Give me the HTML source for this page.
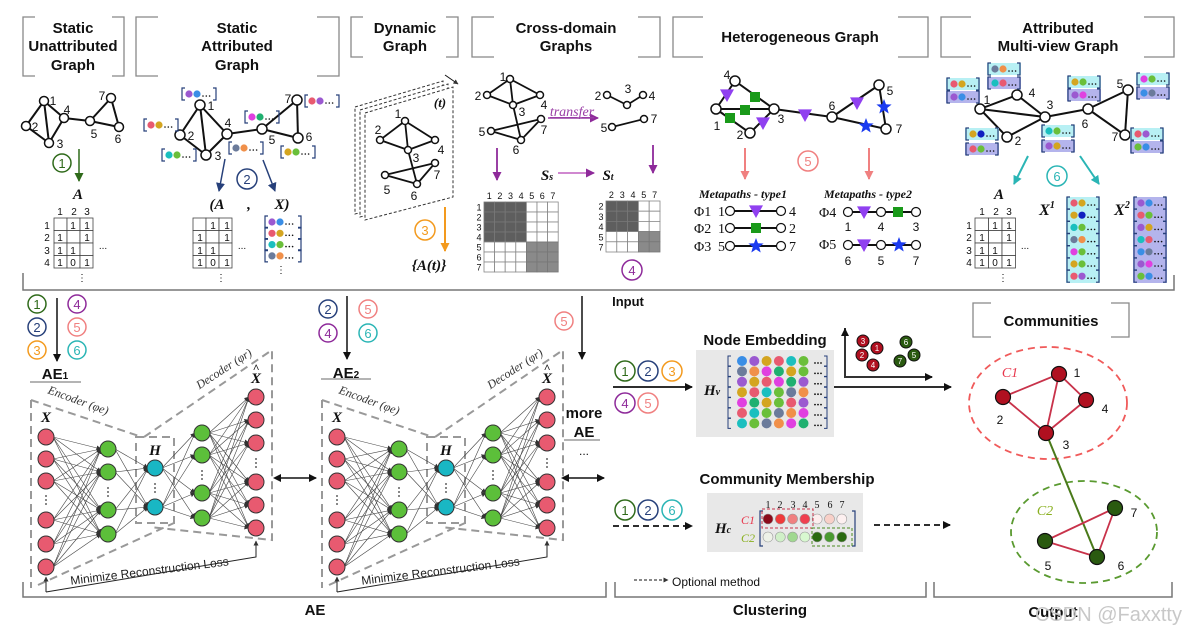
<!DOCTYPE html>
<html><head><meta charset="utf-8"><style>
html,body{margin:0;padding:0;background:#fff;}
svg{display:block;font-family:"Liberation Sans",sans-serif;}
.h{font-weight:bold;font-size:15px;text-anchor:middle;fill:#111;}
.n{font-size:12px;fill:#111;text-anchor:middle;}
.s{font-size:10px;fill:#111;text-anchor:middle;}
.it{font-family:"Liberation Serif",serif;font-style:italic;font-weight:bold;fill:#111;text-anchor:middle;}
.cn{font-size:13px;text-anchor:middle;}
</style></head><body>
<svg id="s" width="1185" height="636" viewBox="0 0 1185 636" xmlns="http://www.w3.org/2000/svg">
<defs>
<marker id="mk" markerWidth="8" markerHeight="8" refX="7" refY="4" orient="auto" markerUnits="userSpaceOnUse"><path d="M0,0 L8,4 L0,8 z" fill="#111"/></marker>
<marker id="mks" markerWidth="8" markerHeight="8" refX="1" refY="4" orient="auto-start-reverse" markerUnits="userSpaceOnUse"><path d="M0,0 L8,4 L0,8 z" fill="#111"/></marker>
<marker id="mg" markerWidth="9" markerHeight="9" refX="8" refY="4.5" orient="auto" markerUnits="userSpaceOnUse"><path d="M0,0 L9,4.5 L0,9 z" fill="#2f6a1a"/></marker>
<marker id="mb" markerWidth="9" markerHeight="9" refX="8" refY="4.5" orient="auto" markerUnits="userSpaceOnUse"><path d="M0,0 L9,4.5 L0,9 z" fill="#27407a"/></marker>
<marker id="mo" markerWidth="9" markerHeight="9" refX="8" refY="4.5" orient="auto" markerUnits="userSpaceOnUse"><path d="M0,0 L9,4.5 L0,9 z" fill="#f39a1e"/></marker>
<marker id="mp" markerWidth="9" markerHeight="9" refX="8" refY="4.5" orient="auto" markerUnits="userSpaceOnUse"><path d="M0,0 L9,4.5 L0,9 z" fill="#8e2a9a"/></marker>
<marker id="mr" markerWidth="9" markerHeight="9" refX="8" refY="4.5" orient="auto" markerUnits="userSpaceOnUse"><path d="M0,0 L9,4.5 L0,9 z" fill="#f08080"/></marker>
<marker id="mt" markerWidth="9" markerHeight="9" refX="8" refY="4.5" orient="auto" markerUnits="userSpaceOnUse"><path d="M0,0 L9,4.5 L0,9 z" fill="#2ab5b5"/></marker>
<marker id="ms" markerWidth="5" markerHeight="5" refX="4.5" refY="2.5" orient="auto" markerUnits="userSpaceOnUse"><path d="M0,0 L5,2.5 L0,5 z" fill="#333"/></marker>
</defs>
<g id="shapes"></g>

<!-- headers -->
<text class="h" x="73" y="33">Static</text><text class="h" x="73" y="51">Unattributed</text><text class="h" x="73" y="70">Graph</text>
<text class="h" x="237" y="33">Static</text><text class="h" x="237" y="51">Attributed</text><text class="h" x="237" y="70">Graph</text>
<text class="h" x="405" y="33">Dynamic</text><text class="h" x="405" y="51">Graph</text>
<text class="h" x="566" y="33">Cross-domain</text><text class="h" x="566" y="51">Graphs</text>
<text class="h" x="800" y="42">Heterogeneous Graph</text>
<text class="h" x="1058" y="33">Attributed</text><text class="h" x="1058" y="51">Multi-view Graph</text>

<!-- static unattributed labels -->
<text class="n" x="53" y="105">1</text><text class="n" x="35" y="131">2</text><text class="n" x="60" y="148">3</text><text class="n" x="67" y="114">4</text><text class="n" x="94" y="138">5</text><text class="n" x="118" y="143">6</text><text class="n" x="102" y="100">7</text>
<text class="it" x="78" y="199" font-size="15">A</text>
<text class="s" x="60" y="215">1</text><text class="s" x="74" y="215">2</text><text class="s" x="87" y="215">3</text>
<text class="s" x="47" y="229">1</text><text class="s" x="47" y="241">2</text><text class="s" x="47" y="254">3</text><text class="s" x="47" y="266">4</text>
<g class="s"><text x="73" y="229">1</text><text x="87" y="229">1</text><text x="60" y="241">1</text><text x="87" y="241">1</text><text x="60" y="254">1</text><text x="73" y="254">1</text><text x="60" y="266">1</text><text x="73" y="266">0</text><text x="87" y="266">1</text></g>
<text class="s" x="103" y="249">...</text><text class="s" x="82" y="281">⋮</text>

<!-- static attributed labels -->
<text class="n" x="211" y="110">1</text><text class="n" x="191" y="140">2</text><text class="n" x="218" y="160">3</text><text class="n" x="228" y="127">4</text><text class="n" x="272" y="144">5</text><text class="n" x="309" y="141">6</text><text class="n" x="288" y="103">7</text>
<text class="it" x="217" y="209" font-size="15">(A</text><text class="it" x="249" y="209" font-size="15">,</text><text class="it" x="282" y="209" font-size="15">X)</text>
<g class="s"><text x="213" y="229">1</text><text x="227" y="229">1</text><text x="200" y="241">1</text><text x="227" y="241">1</text><text x="200" y="254">1</text><text x="213" y="254">1</text><text x="200" y="266">1</text><text x="213" y="266">0</text><text x="227" y="266">1</text></g>
<text class="s" x="242" y="249">...</text><text class="s" x="221" y="281">⋮</text><text class="s" x="281" y="273">⋮</text>

<!-- dynamic -->
<text class="it" x="440" y="107" font-size="13">(t)</text>
<text class="n" x="398" y="118">1</text><text class="n" x="378" y="134">2</text><text class="n" x="416" y="162">3</text><text class="n" x="441" y="154">4</text><text class="n" x="387" y="194">5</text><text class="n" x="414" y="200">6</text><text class="n" x="437" y="179">7</text>
<text class="it" x="429" y="270" font-size="15">{A(t)}</text>

<!-- cross domain -->
<text class="n" x="503" y="81">1</text><text class="n" x="478" y="100">2</text><text class="n" x="522" y="116">3</text><text class="n" x="544" y="109">4</text><text class="n" x="482" y="136">5</text><text class="n" x="516" y="154">6</text><text class="n" x="544" y="134">7</text>
<text x="572" y="116" font-family="Liberation Serif,serif" font-style="italic" font-size="14" fill="#9a3ea6" text-anchor="middle" text-decoration="underline">transfer</text>
<text class="n" x="598" y="100">2</text><text class="n" x="628" y="93">3</text><text class="n" x="652" y="100">4</text><text class="n" x="604" y="132">5</text><text class="n" x="654" y="123">7</text>
<text class="it" x="547" y="180" font-size="15">S<tspan font-size="10">s</tspan></text>
<text class="it" x="608" y="180" font-size="15">S<tspan font-size="10">t</tspan></text>

<!-- hetero -->
<text class="n" x="727" y="79">4</text><text class="n" x="717" y="130">1</text><text class="n" x="740" y="139">2</text><text class="n" x="781" y="123">3</text><text class="n" x="832" y="110">6</text><text class="n" x="890" y="95">5</text><text class="n" x="899" y="133">7</text>
<text class="it" x="743" y="198" font-size="12" font-weight="normal">Metapaths - type1</text>
<text class="it" x="868" y="198" font-size="12" font-weight="normal">Metapaths - type2</text>
<g font-family="Liberation Serif,serif" font-size="14" fill="#111">
<text x="694" y="216">Φ1</text><text x="718" y="216">1</text><text x="789" y="216">4</text>
<text x="694" y="233">Φ2</text><text x="718" y="233">1</text><text x="789" y="233">2</text>
<text x="694" y="251">Φ3</text><text x="718" y="251">5</text><text x="789" y="251">7</text>
<text x="819" y="217">Φ4</text><text x="819" y="249">Φ5</text>
</g>
<g class="n" font-size="13"><text x="848" y="231">1</text><text x="881" y="231">4</text><text x="916" y="231">3</text><text x="848" y="265">6</text><text x="881" y="265">5</text><text x="916" y="265">7</text></g>

<!-- multiview -->
<text class="n" x="987" y="104">1</text><text class="n" x="1032" y="97">4</text><text class="n" x="1050" y="109">3</text><text class="n" x="1018" y="145">2</text><text class="n" x="1085" y="128">6</text><text class="n" x="1120" y="88">5</text><text class="n" x="1115" y="141">7</text>
<text class="it" x="999" y="199" font-size="15">A</text>
<text class="s" x="982" y="215">1</text><text class="s" x="996" y="215">2</text><text class="s" x="1009" y="215">3</text>
<text class="s" x="969" y="229">1</text><text class="s" x="969" y="241">2</text><text class="s" x="969" y="254">3</text><text class="s" x="969" y="266">4</text>
<g class="s"><text x="995" y="229">1</text><text x="1009" y="229">1</text><text x="982" y="241">1</text><text x="1009" y="241">1</text><text x="982" y="254">1</text><text x="995" y="254">1</text><text x="982" y="266">1</text><text x="995" y="266">0</text><text x="1009" y="266">1</text></g>
<text class="s" x="1025" y="249">...</text><text class="s" x="1003" y="281">⋮</text>
<text class="it" x="1047" y="215" font-size="16">X<tspan font-size="10" dy="-7">1</tspan></text>
<text class="it" x="1122" y="215" font-size="16">X<tspan font-size="10" dy="-7">2</tspan></text>

<!-- circled numbers -->
<g font-size="13" text-anchor="middle" font-family="Liberation Sans,sans-serif">
<circle cx="62" cy="163" r="9" fill="none" stroke="#2f6a1a" stroke-width="1.5"/><text x="62" y="168" fill="#2f6a1a">1</text>
<circle cx="247" cy="179" r="10" fill="none" stroke="#27407a" stroke-width="1.5"/><text x="247" y="184" fill="#27407a">2</text>
<circle cx="425" cy="230" r="10" fill="none" stroke="#f39a1e" stroke-width="1.5"/><text x="425" y="235" fill="#f39a1e">3</text>
<circle cx="632" cy="270" r="10" fill="none" stroke="#8e2a9a" stroke-width="1.5"/><text x="632" y="275" fill="#8e2a9a">4</text>
<circle cx="808" cy="161" r="10" fill="none" stroke="#f08080" stroke-width="1.5"/><text x="808" y="166" fill="#f08080">5</text>
<circle cx="1057" cy="176" r="10" fill="none" stroke="#2ab5b5" stroke-width="1.5"/><text x="1057" y="181" fill="#2ab5b5">6</text>

<circle cx="37" cy="304" r="9" fill="none" stroke="#2f6a1a" stroke-width="1.5"/><text x="37" y="309" fill="#2f6a1a">1</text>
<circle cx="37" cy="327" r="9" fill="none" stroke="#27407a" stroke-width="1.5"/><text x="37" y="332" fill="#27407a">2</text>
<circle cx="37" cy="350" r="9" fill="none" stroke="#f39a1e" stroke-width="1.5"/><text x="37" y="355" fill="#f39a1e">3</text>
<circle cx="77" cy="304" r="9" fill="none" stroke="#8e2a9a" stroke-width="1.5"/><text x="77" y="309" fill="#8e2a9a">4</text>
<circle cx="77" cy="327" r="9" fill="none" stroke="#f08080" stroke-width="1.5"/><text x="77" y="332" fill="#f08080">5</text>
<circle cx="77" cy="350" r="9" fill="none" stroke="#2ab5b5" stroke-width="1.5"/><text x="77" y="355" fill="#2ab5b5">6</text>

<circle cx="328" cy="309" r="9" fill="none" stroke="#27407a" stroke-width="1.5"/><text x="328" y="314" fill="#27407a">2</text>
<circle cx="368" cy="309" r="9" fill="none" stroke="#f08080" stroke-width="1.5"/><text x="368" y="314" fill="#f08080">5</text>
<circle cx="328" cy="333" r="9" fill="none" stroke="#8e2a9a" stroke-width="1.5"/><text x="328" y="338" fill="#8e2a9a">4</text>
<circle cx="368" cy="333" r="9" fill="none" stroke="#2ab5b5" stroke-width="1.5"/><text x="368" y="338" fill="#2ab5b5">6</text>
<circle cx="564" cy="321" r="9" fill="none" stroke="#f08080" stroke-width="1.5"/><text x="564" y="326" fill="#f08080">5</text>

<circle cx="625" cy="371" r="10" fill="none" stroke="#2f6a1a" stroke-width="1.5"/><text x="625" y="376" fill="#2f6a1a">1</text>
<circle cx="648" cy="371" r="10" fill="none" stroke="#27407a" stroke-width="1.5"/><text x="648" y="376" fill="#27407a">2</text>
<circle cx="672" cy="371" r="10" fill="none" stroke="#f39a1e" stroke-width="1.5"/><text x="672" y="376" fill="#f39a1e">3</text>
<circle cx="625" cy="403" r="10" fill="none" stroke="#8e2a9a" stroke-width="1.5"/><text x="625" y="408" fill="#8e2a9a">4</text>
<circle cx="648" cy="403" r="10" fill="none" stroke="#f08080" stroke-width="1.5"/><text x="648" y="408" fill="#f08080">5</text>
<circle cx="625" cy="510" r="10" fill="none" stroke="#2f6a1a" stroke-width="1.5"/><text x="625" y="515" fill="#2f6a1a">1</text>
<circle cx="648" cy="510" r="10" fill="none" stroke="#27407a" stroke-width="1.5"/><text x="648" y="515" fill="#27407a">2</text>
<circle cx="672" cy="510" r="10" fill="none" stroke="#2ab5b5" stroke-width="1.5"/><text x="672" y="515" fill="#2ab5b5">6</text>
</g>

<!-- AE labels -->
<text class="h" x="55" y="379" font-size="13">AE<tspan font-size="10">1</tspan></text>
<text class="h" x="346" y="378" font-size="13">AE<tspan font-size="10">2</tspan></text>
<text class="h" x="584" y="418" font-size="13">more</text><text class="h" x="584" y="437" font-size="13">AE</text>
<text class="n" x="584" y="455">...</text>
<g class="it" font-size="15"><text x="46" y="422">X</text><text x="155" y="455">H</text><text x="256" y="383">X</text><text x="256" y="372" font-size="12">^</text>
<text x="337" y="422">X</text><text x="446" y="455">H</text><text x="547" y="383">X</text><text x="547" y="372" font-size="12">^</text></g>
<g font-family="Liberation Serif,serif" font-style="italic" font-size="12" fill="#333" text-anchor="middle">
<text transform="translate(77,404) rotate(20)">Encoder (φe)</text>
<text transform="translate(226,372) rotate(-33)">Decoder (φr)</text>
<text transform="translate(368,404) rotate(20)">Encoder (φe)</text>
<text transform="translate(517,372) rotate(-33)">Decoder (φr)</text>
</g>
<g font-size="12" fill="#222" text-anchor="middle">
<text transform="translate(150,575) rotate(-7)">Minimize Reconstruction Loss</text>
<text transform="translate(441,575) rotate(-7)">Minimize Reconstruction Loss</text>
</g>
<text class="h" x="315" y="615" font-size="14">AE</text>
<text class="h" x="770" y="615" font-size="14">Clustering</text>
<text class="h" x="1053" y="617" font-size="14">Output</text>
<text x="628" y="306" font-weight="bold" font-size="13" fill="#111" text-anchor="middle">Input</text>
<text x="672" y="586" font-size="12" fill="#111">Optional method</text>

<!-- clustering -->
<text class="h" x="765" y="345" font-size="13">Node Embedding</text>
<text class="it" x="712" y="395" font-size="15">H<tspan font-size="10">v</tspan></text>
<text class="h" x="787" y="484" font-size="13">Community Membership</text>
<text class="it" x="723" y="533" font-size="15">H<tspan font-size="10">c</tspan></text>
<text x="748" y="524" font-family="Liberation Serif,serif" font-style="italic" font-size="12" fill="#e8364c" text-anchor="middle">C1</text>
<text x="748" y="542" font-family="Liberation Serif,serif" font-style="italic" font-size="12" fill="#8ab020" text-anchor="middle">C2</text>
<g font-family="Liberation Serif,serif" font-size="10" fill="#111" text-anchor="middle"><text x="768" y="508">1</text><text x="780" y="508">2</text><text x="793" y="508">3</text><text x="805" y="508">4</text><text x="817" y="508">5</text><text x="830" y="508">6</text><text x="842" y="508">7</text></g>
<text class="h" x="1051" y="326" font-size="14">Communities</text>
<text class="n" x="1077" y="377" font-size="14">1</text><text class="n" x="1000" y="424" font-size="14">2</text><text class="n" x="1105" y="413" font-size="14">4</text><text class="n" x="1066" y="449" font-size="14">3</text>
<text class="n" x="1134" y="517" font-size="14">7</text><text class="n" x="1048" y="570" font-size="14">5</text><text class="n" x="1121" y="570" font-size="14">6</text>
<text x="1010" y="377" font-family="Liberation Serif,serif" font-style="italic" font-size="14" fill="#e8364c" text-anchor="middle">C1</text>
<text x="1045" y="515" font-family="Liberation Serif,serif" font-style="italic" font-size="14" fill="#8ab020" text-anchor="middle">C2</text>
<g font-size="8" fill="#fff" text-anchor="middle"><text x="863" y="344">3</text><text x="877" y="351">1</text><text x="862" y="358">2</text><text x="873" y="368">4</text><text x="906" y="345">6</text><text x="914" y="358">5</text><text x="900" y="364">7</text></g>
<text x="1035" y="621" font-size="20" fill="#c8c8c8">CSDN @Faxxtty</text>
</svg>
<script>
(function(){
const NS="http://www.w3.org/2000/svg";
const G=document.getElementById('shapes');
function el(t,a,p){const e=document.createElementNS(NS,t);for(const k in a)e.setAttribute(k,a[k]);(p||G).appendChild(e);return e;}
function L(x1,y1,x2,y2,c,w,extra){const a={x1,y1,x2,y2,stroke:c||'#111','stroke-width':w||1.2};Object.assign(a,extra||{});return el('line',a);}
function C(cx,cy,r,f,s,w){return el('circle',{cx,cy,r,fill:f,stroke:s||'#111','stroke-width':w||1.2});}
function R(x,y,w,h,f,s,sw,extra){const a={x,y,width:w,height:h,fill:f,stroke:s||'none','stroke-width':sw||1};Object.assign(a,extra||{});return el('rect',a);}
function P(d,f,s,w,extra){const a={d,fill:f||'none',stroke:s||'none','stroke-width':w||1};Object.assign(a,extra||{});return el('path',a);}
// header brackets
function bracket(x1,y1,x2,y2,t){const s='#888';P(`M${x1+t},${y1} H${x1} V${y2} H${x1+t} M${x2-t},${y1} H${x2} V${y2} H${x2-t}`,'none',s,1.3);}
bracket(23,17,124,76,12);bracket(136,17,339,76,22);bracket(351,17,458,57,12);bracket(472,17,660,57,22);bracket(673,17,928,57,30);bracket(941,17,1174,57,30);
bracket(973,303,1129,337,18);
// frame
P('M23,273 V290 H1174 V275','none','#777',1.5);
P('M23,582 V597 H606 V582 M615,582 V597 H926 V582 M934,582 V597 H1172 V582','none','#777',1.5);
function graph(nodes,edges,r,fill,stroke,ew,ec){edges.forEach(e=>{const a=nodes[e[0]],b=nodes[e[1]];L(a[0],a[1],b[0],b[1],e[2]||ec||'#111',ew||2);});for(const k in nodes){C(nodes[k][0],nodes[k][1],r,fill||'#fff',stroke||'#111',1.5);}}
// static unattributed
const E1=[[1,2],[1,3],[2,3],[1,4],[3,4],[4,5],[5,7],[5,6],[6,7]];
graph({1:[44,101],2:[26,126],3:[49,143],4:[64,118],5:[90,121],6:[119,127],7:[111,98]},E1,4.5);
L(79,149,79,181,'#2f6a1a',1.5,{'marker-end':'url(#mg)'});
function mat(x,y,cols,rows,cw,rh){for(let i=0;i<rows;i++)for(let j=0;j<cols;j++)R(x+j*cw,y+i*rh,cw,rh,'#fff','#444',0.8);}
mat(54,218,3,4,13,12.5);
// static attributed
graph({1:[200,105],2:[180,135],3:[206,155],4:[227,134],5:[262,129],6:[298,138],7:[297,100]},E1,5);
const col={bl:'#3a8ee6',pu:'#9b59d0',go:'#d4a520',pk:'#e85a70',te:'#1bbfbf',gr:'#6abf3a',sl:'#6b7b9b',or:'#f0904a',mg:'#e040e0',g2:'#20b070',nv:'#1020c0'};
function attr(cx,cy,c1,c2,bg,w){w=w||34;const x=cx-w/2;if(bg)R(x-1,cy-6,w+2,12,bg);P(`M${x+3},${cy-6} H${x} V${cy+6} H${x+3} M${x+w-3},${cy-6} H${x+w} V${cy+6} H${x+w-3}`,'none','#27407a',1.2);C(x+7,cy,3.6,c1,'none');C(x+15,cy,3.6,c2,'none');for(let i=0;i<3;i++)C(x+21+i*3.3,cy+2,0.8,'#111','none');}
attr(199,94,col.pu,col.bl);attr(161,125,col.pk,col.go);attr(179,155,col.te,col.gr);attr(262,117,col.mg,col.g2);attr(246,148,col.sl,col.or);attr(322,101,col.pk,col.pu);attr(298,152,col.go,col.gr);
L(225,159,219,191,'#27407a',1.5,{'marker-end':'url(#mb)'});L(263,160,275,191,'#27407a',1.5,{'marker-end':'url(#mb)'});
mat(193,218,3,4,13,12.5);
[[col.pu,col.bl],[col.pk,col.go],[col.te,col.gr],[col.sl,col.or]].forEach((c,i)=>attr(283,222+i*11.3,c[0],c[1],null,36));
// dynamic planes
[[355,-6],[360,-3],[365,0]].forEach(p=>{const dx=p[0]-365,dy=p[1];P(`M${365+dx},${113+dy} L${453+dx},${87+dy} V${197+dy} L${365+dx},${220+dy} Z`,'#fff','#333',1,{'stroke-dasharray':'3,2'});});
L(445,75,458,84,'#111',1,{'marker-end':'url(#ms)'});
graph({1:[405,121],2:[380,140],3:[408,150],4:[435,140],5:[385,175],6:[417,184],7:[435,163]},[[1,2],[1,3],[1,4],[2,3],[3,4],[3,6],[5,6],[5,7],[6,7]],3.5,'#fff','#111',1.8);
L(445,207,445,251,'#f39a1e',2,{'marker-end':'url(#mo)'});
// cross domain
graph({1:[510,79],2:[487,95],3:[513,105],4:[540,95],5:[491,131],6:[521,140],7:[541,119]},[[1,2],[1,3],[1,4],[2,3],[3,4],[3,6],[5,6],[5,7],[6,7]],3.5,'#fff','#111',1.8);
graph({2:[607,95],3:[627,105],4:[643,95],5:[612,127],7:[644,119]},[[2,3],[3,4],[5,7]],3.5,'#fff','#111',1.8);
L(548,118,598,118,'#9a3ea6',1.5,{'marker-end':'url(#mp)'});
L(497,148,497,180,'#8e2a9a',1.8,{'marker-end':'url(#mp)'});L(653,145,653,173,'#8e2a9a',1.8,{'marker-end':'url(#mp)'});
L(558,173,594,173,'#c060c0',1.5,{'marker-end':'url(#mp)'});
function bmat(x,y,n,cw,rh,k,labels){for(let i=0;i<n;i++)for(let j=0;j<n;j++){let f='#fff';if(i<k&&j<k)f='#5e5e5e';else if(i>=k&&j>=k)f='#8a8a8a';R(x+j*cw,y+i*rh,cw,rh,f,f=='#fff'?'#888':'#777',0.8);}
labels.forEach((t,i)=>{const a=el('text',{x:x+i*cw+cw/2,y:y-3,'font-size':9,'text-anchor':'middle',fill:'#111'});a.textContent=t;const b=el('text',{x:x-5,y:y+i*rh+rh-1.5,'font-size':9,'text-anchor':'middle',fill:'#111'});b.textContent=t;});}
bmat(484,202,7,10.6,10,4,['1','2','3','4','5','6','7']);
bmat(606,201,5,10.8,10.2,3,['2','3','4','5','7']);
// hetero
graph({4:[735,81],1:[716,109],3:[774,109],2:[750,133],6:[832,117],5:[879,85],7:[886,129]},[[4,1],[4,3],[1,3],[1,2],[2,3],[3,6],[6,5],[6,7],[5,7]],5,'#fff','#111',2);
function tri(x,y,s){P(`M${x-s},${y-s*0.8} L${x+s},${y-s*0.8} L${x},${y+s} Z`,'#9040f0');}
function sq(x,y,s){R(x-s,y-s,2*s,2*s,'#1a9a1a');}
function star(x,y,r){let d='';for(let i=0;i<10;i++){const a=-Math.PI/2+i*Math.PI/5,rr=i%2?r*0.42:r;d+=(i?'L':'M')+(x+rr*Math.cos(a)).toFixed(1)+','+(y+rr*Math.sin(a)).toFixed(1);}P(d+'Z','#1a3af0');}
tri(727,95,7);tri(763,123,7);tri(805,115,7);tri(857,103,7);sq(755,97,5);sq(745,110,5);sq(730,118,5);star(884,107,8);star(866,126,8);
L(745,148,745,179,'#f08080',2,{'marker-end':'url(#mr)'});L(869,148,869,179,'#f08080',2,{'marker-end':'url(#mr)'});
[[211,'t'],[228,'s'],[246,'*']].forEach(r=>{L(730,r[0],781,r[0],'#111',2);C(730,r[0],4.5,'#fff');C(781,r[0],4.5,'#fff');if(r[1]=='t')tri(756,r[0],7);else if(r[1]=='s')sq(756,r[0],5);else star(756,r[0],8);});
[[212,'t','s'],[245,'t','*']].forEach(r=>{L(848,r[0],916,r[0],'#111',2);[848,881,916].forEach(x=>C(x,r[0],4.5,'#fff'));tri(864,r[0],7);if(r[2]=='s')sq(898,r[0],5);else star(899,r[0],8);});
// multiview
graph({1:[980,109],4:[1017,95],3:[1045,117],2:[1007,137],6:[1088,109],5:[1128,90],7:[1125,135]},[[1,4],[4,3],[1,3],[1,2],[2,3],[3,6],[6,5],[6,7],[5,7]],5,'#fff','#111',2);
const CY='#b8f0f4',LV='#b4b4ec';
function pair(cx,y1,y2,a,b){attr(cx,y1,a[0],a[1],CY,32);attr(cx,y2,b[0],b[1],LV,32);}
pair(963,84,97,[col.pk,col.go],[col.pu,col.bl]);pair(1004,69,83,[col.sl,col.or],[col.te,col.pk]);pair(1084,82,95,[col.go,col.gr],[col.pu,col.mg]);pair(1153,79,93,[col.mg,col.gr],[col.bl,col.sl]);
pair(982,134,149,[col.go,col.nv],[col.pk,col.gr]);pair(1058,131,146,[col.te,col.gr],[col.pu,col.go]);pair(1147,134,147,[col.pk,col.pu],[col.gr,col.bl]);
L(1028,156,1014,184,'#2ab5b5',2,{'marker-end':'url(#mt)'});L(1080,156,1099,184,'#2ab5b5',2,{'marker-end':'url(#mt)'});
mat(975,218,3,4,13.5,12.5);
const x1c=[[col.pk,col.go],[col.go,col.nv],[col.te,col.gr],[col.sl,col.or],[col.mg,col.gr],[col.go,col.gr],[col.pk,col.pu]];
const x2c=[[col.pu,col.bl],[col.pk,col.gr],[col.pu,col.go],[col.te,col.pk],[col.bl,col.sl],[col.pu,col.mg],[col.gr,col.bl]];
R(1066,197,34,86,CY);R(1133,197,34,86,LV);
x1c.forEach((c,i)=>attr(1083,203+i*12.2,c[0],c[1],null,32));x2c.forEach((c,i)=>attr(1150,203+i*12.2,c[0],c[1],null,32));
// bottom arrows
L(57,298,57,361,'#111',1.5,{'marker-end':'url(#mk)'});L(347,296,347,359,'#111',1.5,{'marker-end':'url(#mk)'});L(582,296,582,359,'#111',1.5,{'marker-end':'url(#mk)'});
L(30,382,81,382,'#888',1.2);L(321,379,371,379,'#888',1.2);L(564,440,600,440,'#888',1.2);
// networks
function net(dx){
 const lay=[[46,[437,459,481,520,544,567],'#e85a70'],[108,[449,472,510,534],'#5cbf3a'],[155,[468,507],'#19b7c4'],[202,[433,455,493,518],'#5cbf3a'],[256,[397,420,443,482,505,528],'#e85a70']];
 const gd='#999';const da={'stroke-dasharray':'8,5'};
 P(`M${31+dx},400 V588 M${31+dx},400 L${142+dx},437 M${38+dx},585 L${174+dx},523 M${144+dx},437 L${272+dx},350 V540 L${150+dx},527`,'none',gd,2,da);
 R(136+dx,437,38,86,'none',gd,2,da);
 for(let l=0;l<4;l++){const A=lay[l],B=lay[l+1];A[1].forEach(ya=>B[1].forEach(yb=>L(A[0]+dx+7,ya,B[0]+dx-7,yb,'#444',0.6,{'marker-end':'url(#ms)'})));}
 lay.forEach(Ly=>Ly[1].forEach(y=>C(Ly[0]+dx,y,8,Ly[2],'#333',1)));
 [[46,500],[108,492],[155,488],[202,475],[256,463]].forEach(p=>{for(let i=0;i<3;i++)C(p[0]+dx,p[1]-4+i*4,0.9,'#333','none');});
 P(`M${46+dx},592 L${256+dx},557 V541`,'none','#222',1,{'marker-end':'url(#ms)'});L(46+dx,592,46+dx,577,'#222',1,{'marker-end':'url(#ms)'});
}
net(0);net(291);
L(280,478,316,478,'#111',1.6,{'marker-end':'url(#mk)','marker-start':'url(#mks)'});
L(568,478,604,478,'#111',1.6,{'marker-end':'url(#mk)','marker-start':'url(#mks)'});
// clustering arrows
L(613,387,692,387,'#111',1.8,{'marker-end':'url(#mk)'});L(613,526,692,526,'#111',1.8,{'marker-end':'url(#mk)','stroke-dasharray':'6,4'});
L(833,387,951,387,'#111',1.8,{'marker-end':'url(#mk)'});L(874,525,950,525,'#111',1.8,{'marker-end':'url(#mk)','stroke-dasharray':'6,4'});
L(634,580,668,580,'#111',1,{'marker-end':'url(#ms)','stroke-dasharray':'3,2'});
// node embedding box
R(696,350,138,87,'#e8e8e8');
const rows=[['bl','pu','go','pk','te','gr'],['sl','or','mg','g2','go','gr'],['pu','go','pk','mg','g2','pu'],['go','pk','te','gr','sl','or'],['mg','g2','go','gr','pk','pu'],['pk','te','gr','sl','or','mg'],['te','gr','sl','or','mg','g2']];
rows.forEach((r,i)=>{const y=361+i*10.4;P(`M731,${y-5} H728 V${y+5} H731 M824,${y-5} H827 V${y+5} H824`,'none','#27407a',1);r.forEach((c,j)=>C(742+j*12.3,y,5,col[c],'none'));for(let k=0;k<3;k++)C(815+k*3,y+2,0.9,'#111','none');});
// scatter
P('M845,328 V377 H932','none','#333',2,{'marker-end':'url(#mk)'});L(845,377,845,329,'#333',2,{'marker-end':'url(#mk)'});
[[863,341],[877,348],[862,355],[873,365]].forEach(p=>C(p[0],p[1],6,'#b01020','#111',1));
[[906,342],[914,355],[900,361]].forEach(p=>C(p[0],p[1],6,'#2a5a10','#111',1));
// community membership
R(707,493,156,59,'#e8e8e8');
P('M763,511 H760 V546 H763 M852,511 H855 V546 H852','none','#27407a',1.2);
const r1=['#8b0a1a','#f03a3a','#f08080','#f04050','#fdeeee','#f8d0c8','#fdf0f0'],r2=['#eef2e8','#d0f0c8','#a0d890','#d8f8d0','#2a6a10','#4a9a30','#2a6a10'];
r1.forEach((c,i)=>C(768+i*12.3,519,5,c,'#999',0.6));r2.forEach((c,i)=>C(768+i*12.3,537,5,c,'#999',0.6));
R(762,509,51,19,'none','#c8324a',1,{'stroke-dasharray':'3,2'});R(812,528,40,18,'none','#4a8a20',1,{'stroke-dasharray':'3,2'});
// communities
el('ellipse',{cx:1048,cy:403,rx:79,ry:56,fill:'none',stroke:'#f05a5a','stroke-width':1.8,'stroke-dasharray':'7,5'});
el('ellipse',{cx:1084,cy:532,rx:73,ry:51,fill:'none',stroke:'#5a9a30','stroke-width':1.8,'stroke-dasharray':'7,5'});
const cn={1:[1059,374],2:[1003,397],4:[1086,400],3:[1046,433],7:[1115,508],5:[1045,541],6:[1097,557]};
L(1046,433,1097,557,'#4a7a1a',2);
[[1,2],[1,3],[1,4],[2,3],[3,4],[5,7],[5,6],[6,7]].forEach(e=>L(cn[e[0]][0],cn[e[0]][1],cn[e[1]][0],cn[e[1]][1],'#c8324a',1.8));
[1,2,3,4].forEach(k=>C(cn[k][0],cn[k][1],7.5,'#b01020','#111',1.2));[5,6,7].forEach(k=>C(cn[k][0],cn[k][1],7.5,'#2a5a10','#111',1.2));
})();
</script>
</body></html>
